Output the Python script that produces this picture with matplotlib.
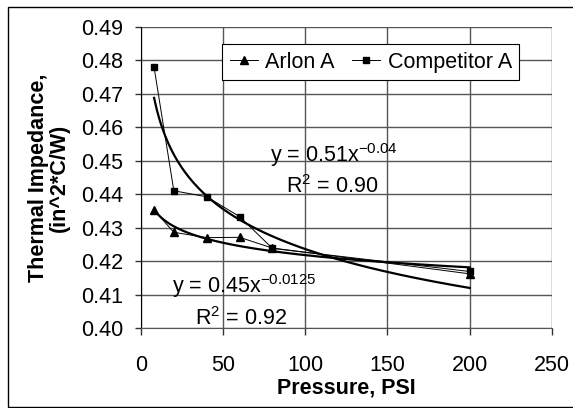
import numpy as np
import matplotlib
matplotlib.use('Agg')
import matplotlib.pyplot as plt
from matplotlib.patches import Rectangle

plt.rcParams['font.family'] = ['Liberation Sans', 'DejaVu Sans']
plt.rcParams['mathtext.fontset'] = 'custom'
plt.rcParams['mathtext.rm'] = 'Liberation Sans'
plt.rcParams['mathtext.it'] = 'Liberation Sans'

# data
pressure = [8, 20, 40, 60, 80, 200]
arlon_a = [0.4353, 0.4287, 0.4271, 0.4272, 0.4240, 0.4163]
competitor_a = [0.4779, 0.4411, 0.4393, 0.4334, 0.4239, 0.4170]

x_ticks = [0, 50, 100, 150, 200, 250]
y_ticks = [0.40, 0.41, 0.42, 0.43, 0.44, 0.45, 0.46, 0.47, 0.48, 0.49]

# trendline labels (as printed on the chart)
comp_eq = r'y = 0.51x$^{-0.04}$'
comp_r2 = r'R$^{2}$ = 0.90'
arlon_eq = r'y = 0.45x$^{-0.0125}$'
arlon_r2 = r'R$^{2}$ = 0.92'

FS = 15.5


def power_fit(x, y):
    b, ln_a = np.polyfit(np.log(x), np.log(y), 1)
    return np.exp(ln_a), b


fig = plt.figure(figsize=(5.73, 4.08), dpi=100)
ax = fig.add_axes([0.246, 0.195, 0.717, 0.739])

grid_col = '#555555'
ax.set_xlim(0, 250)
ax.set_ylim(0.40, 0.49)
ax.set_xticks(x_ticks)
ax.set_yticks(y_ticks)
ax.set_yticklabels([f'{v:.2f}' for v in y_ticks])
ax.grid(True, color=grid_col, lw=1.0, zorder=0)
ax.tick_params(direction='out', width=1, labelsize=FS, color='#333333')
ax.tick_params(axis='x', length=5, pad=14)
ax.tick_params(axis='y', length=4, pad=9)
for s in ['top', 'right']:
    ax.spines[s].set_visible(False)
ax.spines['bottom'].set_color(grid_col)
ax.spines['left'].set_color('black')

# data series
ax.plot(pressure, arlon_a, color='black', lw=0.7, marker='^', ms=6,
        label='Arlon A', zorder=3)
ax.plot(pressure, competitor_a, color='black', lw=0.7, marker='s', ms=5,
        label='Competitor A', zorder=3)

# power trendlines
xs = np.linspace(min(pressure), max(pressure), 200)
for series in (arlon_a, competitor_a):
    a, b = power_fit(np.array(pressure, float), np.array(series))
    ax.plot(xs, a * xs ** b, color='black', lw=1.6, zorder=2)

ax.text(78.7, 0.4498, comp_eq, fontsize=FS, va='baseline')
ax.text(88.4, 0.4404, comp_r2, fontsize=FS, va='baseline')
ax.text(19.1, 0.4107, arlon_eq, fontsize=FS, va='baseline')
ax.text(32.9, 0.4010, arlon_r2, fontsize=FS, va='baseline')

ax.set_xlabel('Pressure, PSI', fontsize=FS, fontweight='bold', labelpad=1)
ax.set_ylabel('Thermal Impedance,\n(in^2*C/W)', fontsize=FS,
              fontweight='bold', labelpad=8, linespacing=0.95)

leg = ax.legend(ncol=2, loc='upper left', bbox_to_anchor=(222 / 573, 1 - 44 / 408),
                bbox_transform=fig.transFigure, borderaxespad=0, fontsize=FS,
                frameon=True, fancybox=False, handlelength=1.3, handletextpad=0.33,
                columnspacing=0.85, borderpad=0.35, framealpha=1)
leg.get_frame().set_edgecolor('black')
leg.get_frame().set_linewidth(0.8)

fig.patches.append(Rectangle((8 / 573, 1 / 408), 1.2, 400 / 408,
                             transform=fig.transFigure, fill=False,
                             edgecolor='black', lw=1.0))

fig.savefig('out.png', dpi=100)
